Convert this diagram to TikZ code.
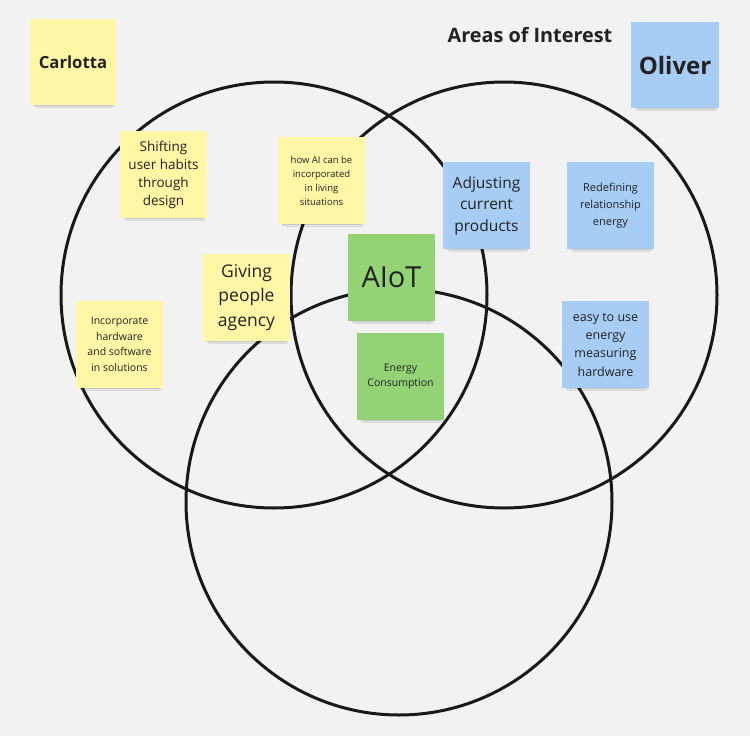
\documentclass[tikz,border=0pt]{standalone}
\usepackage{fontspec}
\setmainfont{Open Sans}
\usetikzlibrary{shadows.blur}
\definecolor{bg}{HTML}{F2F2F2}
\definecolor{noteyellow}{HTML}{FFF7A6}
\definecolor{noteblue}{HTML}{A7CDF5}
\definecolor{notegreen}{HTML}{93D275}
\definecolor{inktext}{HTML}{222222}
\tikzset{
  note/.style={minimum width=87pt, minimum height=87pt, inner sep=2pt, align=center,
    text=inktext, blur shadow={shadow xshift=1.5pt, shadow yshift=-6pt, shadow scale=0.87, shadow blur steps=6, shadow blur radius=3pt, shadow opacity=55}},
  ynote/.style={note, fill=noteyellow},
  bnote/.style={note, fill=noteblue},
  gnote/.style={note, fill=notegreen},
  ring/.style={draw=black!90, line width=3pt}
}
\begin{document}
\begin{tikzpicture}[x=1pt,y=-1pt]
\fill[bg] (0,0) rectangle (750,736);
\useasboundingbox (0,0) rectangle (750,736);
% circles
\draw[ring] (274,295) circle[radius=213];
\draw[ring] (504,295) circle[radius=213];
\draw[ring] (399,502) circle[radius=213];
% title
\node[text=inktext, font=\fontsize{19.8}{23}\selectfont\bfseries] (title) at (530,35) {Areas of Interest};
% notes
\node[ynote, minimum width=86pt, minimum height=86pt, font=\fontsize{16.7}{20}\selectfont\bfseries] (carlotta) at (73,62) {Carlotta};
\node[bnote, minimum width=88pt, minimum height=86pt, font=\fontsize{24}{28}\selectfont\bfseries] (oliver) at (675,65) {Oliver};
\node[ynote, font=\fontsize{13.5}{18}\selectfont] (shift) at (163.5,174.5) {Shifting\\user habits\\through\\design};
\node[ynote, font=\fontsize{9.5}{14}\selectfont] (howai) at (321.5,180.5) {how AI can be\\incorporated\\in living\\situations};
\node[bnote, font=\fontsize{15.5}{21.5}\selectfont] (adjust) at (486.5,205.5) {Adjusting\\current\\products};
\node[bnote, font=\fontsize{11}{17}\selectfont] (redef) at (610.5,205.5) {Redefining\\relationship\\energy};
\node[ynote, font=\fontsize{17.5}{24.5}\selectfont] (giving) at (246.5,297.5) {Giving\\people\\agency};
\node[gnote, font=\fontsize{29}{32}\selectfont] (aiot) at (391.5,277.5) {AIoT};
\node[gnote, font=\fontsize{10.5}{15}\selectfont] (energy) at (400.5,376.5) {Energy\\Consumption};
\node[ynote, font=\fontsize{10.5}{15.5}\selectfont] (incorp) at (119.5,344.5) {Incorporate\\hardware\\and software\\in solutions};
\node[bnote, font=\fontsize{12.5}{18.3}\selectfont] (easy) at (605.5,344.5) {easy to use\\energy\\measuring\\hardware};
\end{tikzpicture}
\end{document}
